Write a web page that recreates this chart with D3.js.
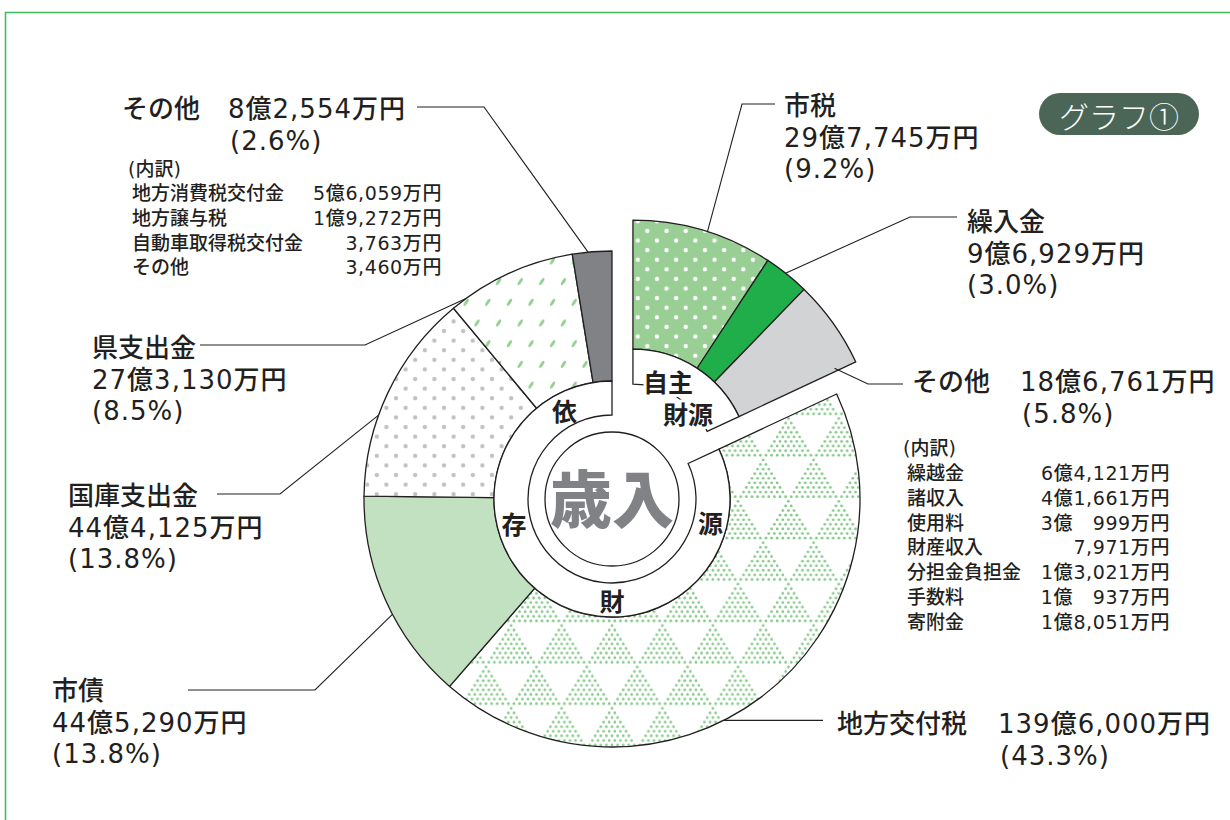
<!DOCTYPE html>
<html lang="ja">
<head>
<meta charset="utf-8">
<script src="https://cdn.jsdelivr.net/npm/d3@7"></script>
<style>
  html, body { margin: 0; padding: 0; background: #fff; }
  svg { display: block; }
  .cjk { font-family: "Noto Sans CJK JP", sans-serif; fill: #231f20; font-weight: 500; }
  .num { font-family: "DejaVu Sans", "Noto Sans CJK JP", sans-serif; fill: #231f20; font-weight: 500; }
</style>
</head>
<body>
<script>
// ---- data (amounts in 万円) ----
const names = ["市税", "繰入金", "その他", "地方交付税", "市債", "国庫支出金", "県支出金", "その他"];
const groups = ["自主", "自主", "自主", "依存", "依存", "依存", "依存", "依存"];
const amounts = [297745, 96929, 186761, 1396000, 445290, 444125, 273130, 82554];
const amountLabels = ["29億7,745万円", "9億6,929万円", "18億6,761万円", "139億6,000万円",
  "44億5,290万円", "44億4,125万円", "27億3,130万円", "8億2,554万円"];
const percentLabels = ["(9.2%)", "(3.0%)", "(5.8%)", "(43.3%)", "(13.8%)", "(13.8%)", "(8.5%)", "(2.6%)"];

const ownOtherItems = ["繰越金", "諸収入", "使用料", "財産収入", "分担金負担金", "手数料", "寄附金"];
const ownOtherValues = ["6億4,121万円", "4億1,661万円", "3億　999万円", "7,971万円", "1億3,021万円", "1億　937万円", "1億8,051万円"];
const depOtherItems = ["地方消費税交付金", "地方譲与税", "自動車取得税交付金", "その他"];
const depOtherValues = ["5億6,059万円", "1億9,272万円", "3,763万円", "3,460万円"];

const depRingChars = ["依", "存", "財", "源"];
const ownRingLines = ["自主", "財源"];

// ---- styles / layout ----
const width = 1230, height = 820;
const cx = 612, cy = 499, explode = 39;
const ink = "#231f20";
const fills = ["url(#pat-shizei)", "#20ae4b", "#d1d3d4", "url(#pat-kofu)", "#c1e1c1", "url(#pat-kokko)", "url(#pat-ken)", "#808285"];

// label layout: frac = where the leader touches the slice (0..1 of its angle)
const labelLayout = [
  {type: "stack", x: 784, y: 115, frac: 0.53, pts: [[742, 104], [775, 104]]},
  {type: "stack", x: 967, y: 231, frac: 0.47, pts: [[910, 217], [957, 217]]},
  {type: "inline", x: 912, vx: 1020, y: 391, frac: 0.96, r: 224, pts: [[868, 384], [903, 384]]},
  {type: "inline", x: 837, vx: 998, y: 733, frac: 0.566, pts: [[823, null]]},
  {type: "stack", x: 52, y: 700, frac: 0.43, pts: [[315, 690], [188, 690]]},
  {type: "stack", x: 68, y: 505, frac: 0.385, pts: [[280, 494], [217, 494]]},
  {type: "stack", x: 92, y: 357, frac: 0.12, pts: [[365, 345], [200, 345]]},
  {type: "inline", x: 122, vx: 228, y: 118, frac: 0.4, pts: [[484, 107], [417, 107]]}
];

const svg = d3.select("body").append("svg")
  .attr("width", width)
  .attr("height", height);

// 1. patterns
const defs = svg.append("defs");

function dotPattern(id, bg, dot) {
  const p = defs.append("pattern").attr("id", id)
    .attr("patternUnits", "userSpaceOnUse")
    .attr("width", 19.2).attr("height", 19.2);
  p.append("rect").attr("width", 19.2).attr("height", 19.2).attr("fill", bg);
  [[4.8, 4.8], [14.4, 14.4]].forEach(([x, y]) => {
    p.append("circle").attr("cx", x).attr("cy", y).attr("r", 2.2).attr("fill", dot);
  });
}
dotPattern("pat-shizei", "#99cf95", "#fff");
dotPattern("pat-kokko", "#fff", "#bfc1c3");

const ken = defs.append("pattern").attr("id", "pat-ken")
  .attr("patternUnits", "userSpaceOnUse")
  .attr("width", 21.6).attr("height", 41.4);
ken.append("rect").attr("width", 21.6).attr("height", 41.4).attr("fill", "#fff");
[[5.4, 10.35], [16.2, 31.05]].forEach(([x, y]) => {
  ken.append("ellipse")
    .attr("cx", x).attr("cy", y).attr("rx", 4.2).attr("ry", 1.5)
    .attr("transform", `rotate(-58 ${x} ${y})`)
    .attr("fill", "#8fce8c");
});

// triangle checkerboard of small dots
const band = 41.4, tw = 50.4;
const kofu = defs.append("pattern").attr("id", "pat-kofu")
  .attr("patternUnits", "userSpaceOnUse")
  .attr("width", tw).attr("height", band * 2);
kofu.append("rect").attr("width", tw).attr("height", band * 2).attr("fill", "#fff");
[[tw / 2, 0], [0, band], [tw, band]].forEach(([tx, top]) => {
  for (let j = 0; j < 9; j++) {
    for (let i = 0; i <= j; i++) {
      kofu.append("circle")
        .attr("cx", tx + (i - j / 2) * 5.6)
        .attr("cy", top + 2.3 + j * 4.6)
        .attr("r", 1.35)
        .attr("fill", "#80c785");
    }
  }
});

// 2. frame
svg.append("path")
  .attr("d", `M5.5,${height} V12.5 H${width}`)
  .attr("fill", "none")
  .attr("stroke", "#3dba5a")
  .attr("stroke-width", 1.5);

// 3. pie
const arcs = d3.pie().sort(null).value(d => d)(amounts)
  .map((a, i) => ({...a, name: names[i], group: groups[i]}));
const own = arcs.filter(d => d.group === "自主");
const dep = arcs.filter(d => d.group === "依存");
const ownStart = own[0].startAngle, ownEnd = own[own.length - 1].endAngle;
const depStart = dep[0].startAngle, depEnd = dep[dep.length - 1].endAngle;
const ownMid = (ownStart + ownEnd) / 2;
const ocx = cx + explode * Math.sin(ownMid), ocy = cy - explode * Math.cos(ownMid);

const ownR = {ringIn: 82, ringOut: 117, outer: 246};
const depR = {ringIn: 84, ringOut: 118, outer: 248};

const gDep = svg.append("g").attr("transform", `translate(${cx},${cy})`);
const gOwn = svg.append("g").attr("transform", `translate(${ocx},${ocy})`);

gDep.selectAll("path.slice")
  .data(dep)
  .join("path")
  .attr("class", "slice")
  .attr("d", d3.arc().innerRadius(depR.ringOut).outerRadius(depR.outer))
  .attr("fill", d => fills[d.index])
  .attr("stroke", ink)
  .attr("stroke-width", 1.3)
  .attr("stroke-linejoin", "round");

gOwn.selectAll("path.slice")
  .data(own)
  .join("path")
  .attr("class", "slice")
  .attr("d", d3.arc().innerRadius(ownR.ringOut).outerRadius(ownR.outer))
  .attr("fill", d => fills[d.index])
  .attr("stroke", ink)
  .attr("stroke-width", 1.3)
  .attr("stroke-linejoin", "round");

// label rings
gDep.append("path")
  .attr("d", d3.arc().innerRadius(depR.ringIn).outerRadius(depR.ringOut)
    .startAngle(depStart).endAngle(depEnd)())
  .attr("fill", "#fff")
  .attr("stroke", ink)
  .attr("stroke-width", 1.3);

gOwn.append("path")
  .attr("d", d3.arc().innerRadius(ownR.ringIn).outerRadius(ownR.ringOut)
    .startAngle(ownStart).endAngle(ownEnd)())
  .attr("fill", "#fff")
  .attr("stroke", ink)
  .attr("stroke-width", 1.3);

// centre circle
gDep.append("circle")
  .attr("r", 67)
  .attr("fill", "#fff")
  .attr("stroke", ink)
  .attr("stroke-width", 1.3);

gDep.append("text")
  .attr("class", "cjk")
  .attr("x", 0)
  .attr("y", -3)
  .attr("text-anchor", "middle")
  .attr("dominant-baseline", "central")
  .attr("font-size", 62)
  .style("font-weight", 900)
  .style("fill", "#808285")
  .text("歳入");

// ring characters
const depRingAngles = [332, 256, 180, 103];
gDep.selectAll("text.ring")
  .data(depRingChars)
  .join("text")
  .attr("class", "cjk ring")
  .attr("x", (d, i) => 101 * Math.sin(depRingAngles[i] * Math.PI / 180))
  .attr("y", (d, i) => -101 * Math.cos(depRingAngles[i] * Math.PI / 180))
  .attr("text-anchor", "middle")
  .attr("dominant-baseline", "central")
  .attr("font-size", 25)
  .style("font-weight", 700)
  .text(d => d);

const ownRingPos = [[35, -85], [55, -53]];
gOwn.selectAll("text.ring")
  .data(ownRingLines)
  .join("text")
  .attr("class", "cjk ring")
  .attr("x", (d, i) => ownRingPos[i][0])
  .attr("y", (d, i) => ownRingPos[i][1])
  .attr("text-anchor", "middle")
  .attr("dominant-baseline", "central")
  .attr("font-size", 25)
  .style("font-weight", 700)
  .attr("stroke", "#fff")
  .attr("stroke-width", 6)
  .attr("paint-order", "stroke")
  .text(d => d);

// 4. leaders and labels
arcs.forEach((d, i) => {
  const L = labelLayout[i];
  const isOwn = d.group === "自主";
  const gx = isOwn ? ocx : cx, gy = isOwn ? ocy : cy;
  const r = L.r || (isOwn ? ownR.outer : depR.outer);
  const a = d.startAngle + L.frac * (d.endAngle - d.startAngle);
  const ax = gx + r * Math.sin(a), ay = gy - r * Math.cos(a);
  const pts = [[ax, ay]].concat(L.pts.map(p => [p[0], p[1] === null ? ay : p[1]]));

  svg.append("path")
    .attr("d", d3.line()(pts))
    .attr("fill", "none")
    .attr("stroke", ink)
    .attr("stroke-width", 1.1);

  svg.append("text").attr("class", "cjk")
    .attr("x", L.x).attr("y", L.y)
    .attr("font-size", 26)
    .text(d.name);

  const vx = L.type === "stack" ? L.x : L.vx;
  const vy = L.type === "stack" ? L.y + 32 : L.y;
  const py = L.type === "stack" ? L.y + 63 : L.y + 32;
  svg.append("text").attr("class", "num")
    .attr("x", vx).attr("y", vy)
    .attr("font-size", 26).attr("letter-spacing", 1)
    .text(amountLabels[i]);
  svg.append("text").attr("class", "num")
    .attr("x", L.type === "stack" ? vx : vx + 2).attr("y", py)
    .attr("font-size", 26).attr("letter-spacing", 1)
    .text(percentLabels[i]);
});

// 5. breakdown lists
function breakdown(hx, hy, ix, vx, y0, items, values) {
  svg.append("text").attr("class", "num")
    .attr("x", hx).attr("y", hy)
    .attr("font-size", 19)
    .text("(内訳)");
  items.forEach((t, k) => {
    svg.append("text").attr("class", "cjk")
      .attr("x", ix).attr("y", y0 + k * 24.8)
      .attr("font-size", 19)
      .text(t);
    svg.append("text").attr("class", "num")
      .attr("x", vx).attr("y", y0 + k * 24.8)
      .attr("font-size", 19)
      .attr("letter-spacing", 0.6)
      .attr("text-anchor", "end")
      .style("white-space", "pre")
      .text(values[k]);
  });
}
breakdown(128, 176, 132, 442, 200, depOtherItems, depOtherValues);
breakdown(903, 455, 907, 1170, 480, ownOtherItems, ownOtherValues);

// 6. badge
svg.append("rect")
  .attr("x", 1039).attr("y", 93)
  .attr("width", 160).attr("height", 42)
  .attr("rx", 21)
  .attr("fill", "#4b6656");
svg.append("text")
  .attr("class", "cjk")
  .attr("x", 1119).attr("y", 115)
  .attr("text-anchor", "middle")
  .attr("dominant-baseline", "central")
  .attr("font-size", 30)
  .style("font-weight", 300)
  .style("fill", "#fff")
  .text("グラフ①");
</script>
</body>
</html>
